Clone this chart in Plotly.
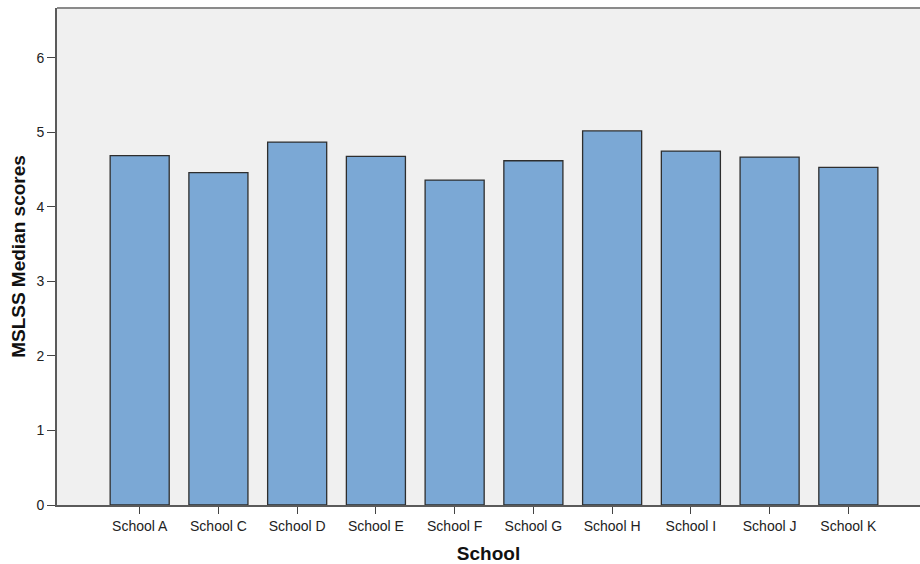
import plotly.graph_objects as go

schools = ["School A", "School C", "School D", "School E", "School F",
           "School G", "School H", "School I", "School J", "School K"]
median_scores = [4.69, 4.46, 4.87, 4.68, 4.36, 4.62, 5.02, 4.75, 4.67, 4.53]
y_ticks = [0, 1, 2, 3, 4, 5, 6]

fig = go.Figure()
fig.add_trace(go.Bar(
    x=schools,
    y=median_scores,
    width=0.75,
    marker=dict(color="#7BA8D5", line=dict(color="#2E2E2E", width=1.3)),
))

fig.update_layout(
    width=920, height=564,
    margin=dict(l=57, r=0, t=8, b=59),
    paper_bgcolor="white",
    plot_bgcolor="#F0F0F0",
    showlegend=False,
    font=dict(family="Liberation Sans, Arial, sans-serif", color="#222222", size=14),
    xaxis=dict(
        range=[-1.05, 9.91],
        showgrid=False,
        showline=True, linecolor="#5A5A5A", linewidth=2,
        ticks="outside", ticklen=7, tickwidth=1.3, tickcolor="#444444",
        tickfont=dict(size=14, color="#222222"),
        title=dict(text="<b>School</b>", font=dict(size=19, color="#111111"), standoff=14),
        zeroline=False,
    ),
    yaxis=dict(
        range=[0, 6.67],
        tickvals=y_ticks,
        showgrid=False,
        showline=True, linecolor="#5A5A5A", linewidth=2,
        ticks="outside", ticklen=8, tickwidth=1.3, tickcolor="#444444",
        tickfont=dict(size=14, color="#222222"),
        title=dict(text="<b>MSLSS Median scores</b>", font=dict(size=19, color="#111111"), standoff=6),
        zeroline=False,
    ),
    shapes=[dict(type="line", xref="paper", yref="paper", x0=0, x1=1, y0=1, y1=1,
                 line=dict(color="#8A8A8A", width=2))],
)

fig.write_html(
    "out.html",
    config={"displayModeBar": False},
    post_script="document.body.style.margin='0';document.body.style.overflow='hidden';",
)
